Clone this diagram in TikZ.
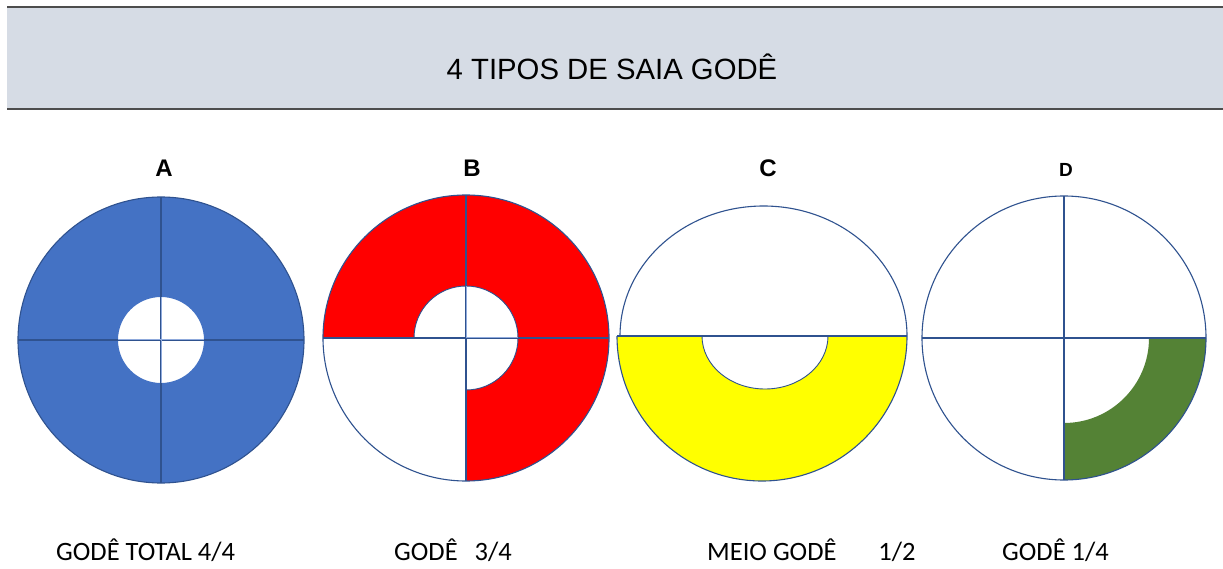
\documentclass[tikz,border=0pt]{standalone}
\usepackage{fontspec}
\setmainfont{Liberation Sans}
\newfontfamily\calib{Carlito}
\definecolor{outl}{HTML}{2F528F}
\definecolor{lightl}{HTML}{8FAADC}
\definecolor{blueA}{HTML}{4472C4}
\definecolor{redB}{HTML}{FF0000}
\definecolor{yelC}{HTML}{FFFF00}
\definecolor{grnD}{HTML}{548235}
\definecolor{hdr}{HTML}{D6DCE5}
\definecolor{hdrline}{HTML}{4D4D4D}
\tikzset{
  outline/.style={draw=outl, line width=1.1pt},
  crossline/.style={draw=outl, line width=1.2pt},
  holeline/.style={draw=lightl, line width=1pt},
  letter/.style={font=\fontsize{24}{26}\selectfont\bfseries, inner sep=0pt},
  caption/.style={font=\calib\fontsize{26.5}{28}\selectfont, inner sep=0pt, anchor=base west}
}
\begin{document}
\begin{tikzpicture}[x=1pt,y=1pt]
\useasboundingbox (0,0) rectangle (1223,568);
\fill[white] (0,0) rectangle (1223,568);
% header
\fill[hdr] (7,459) rectangle (1223,561);
\draw[hdrline, line width=2pt] (7,561) -- (1223,561) (7,459) -- (1223,459);
\node[font=\fontsize{29.3}{31}\selectfont, inner sep=0pt] (title) at (612,501) {4 TIPOS DE SAIA GODÊ};
% letters
\node[letter] (labA) at (164,400) {A};
\node[letter] (labB) at (472,400) {B};
\node[letter] (labC) at (768,400) {C};
\node[letter, font=\fontsize{19}{21}\selectfont\bfseries] (labD) at (1066,398) {D};
% A
\fill[blueA, even odd rule] (161,228) circle (143) (161,228) circle (43);
\draw[outline] (161,228) circle (143);
\draw[crossline] (161,85) -- (161,371) (18,228) -- (304,228);
\draw[holeline] (161,185) -- (161,271) (118,228) -- (204,228);
% B
\fill[redB] (323,230) arc[start angle=180,end angle=0,radius=143] -- (518,230) arc[start angle=0,end angle=180,radius=52] -- cycle;
\fill[redB] (466,87) arc[start angle=270,end angle=360,radius=143] -- (518,230) arc[start angle=360,end angle=270,radius=52] -- cycle;
\draw[outl, line width=0.9pt] (518,230) arc[start angle=0,end angle=180,radius=52];
\draw[outl, line width=0.9pt] (518,230) arc[start angle=360,end angle=270,radius=52];
\draw[outline] (466,230) circle (143);
\draw[crossline] (466,87) -- (466,373) (323,230) -- (609,230);
\draw[holeline] (466,230) -- (466,282) (466,230) -- (518,230);
% C
\fill[white] (617,232) arc[start angle=180,end angle=0,x radius=145,y radius=130];
\draw[outline] (620,232) arc[start angle=180,end angle=0,x radius=143.5,y radius=130];
\fill[yelC] (617,232) arc[start angle=180,end angle=360,radius=145] -- (828,232) arc[start angle=0,end angle=-180,x radius=63,y radius=53] -- cycle;
\draw[outline] (617,232) arc[start angle=180,end angle=360,radius=145];
\draw[outl, line width=0.9pt] (828,232) arc[start angle=0,end angle=-180,x radius=63,y radius=53];
\draw[crossline] (617,232) -- (907,232);
% D
\fill[grnD] (1064,88) arc[start angle=270,end angle=360,radius=142] -- (1149,230) arc[start angle=0,end angle=-90,radius=85] -- cycle;
\draw[outline] (1064,230) circle (142);
\draw[crossline] (1064,88) -- (1064,372) (922,230) -- (1206,230);
% captions
\node[caption] (capA) at (56,8) {GODÊ TOTAL 4/4};
\node[caption] (capB) at (394,8) {GODÊ\hspace{17pt}3/4};
\node[caption] (capC) at (707,8) {MEIO GODÊ\hspace{42pt}1/2};
\node[caption] (capD) at (1002,8) {GODÊ 1/4};
\end{tikzpicture}
\end{document}
